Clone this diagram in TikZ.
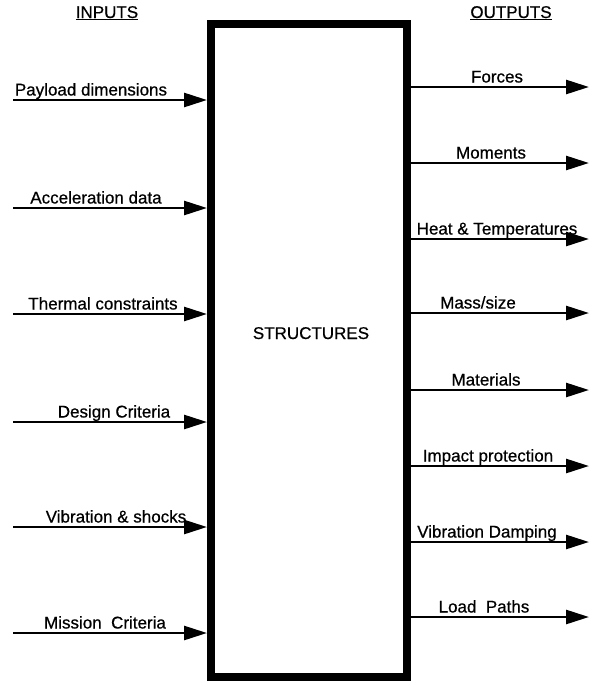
\documentclass[tikz,border=0pt]{standalone}
\usepackage{fontspec}
\setmainfont{Liberation Sans}[FakeBold=0.6]
\usetikzlibrary{arrows.meta}
\begin{document}
\begin{tikzpicture}[x=1pt,y=-1pt,
  lbl/.style={font=\fontsize{17}{19}\selectfont, inner sep=0pt, anchor=base},
  head/.style={font=\fontsize{17}{19}\selectfont, inner sep=0pt, anchor=base},
  flow/.style={line width=2.6pt, -{Triangle[length=23pt,width=14pt]}},
  mainbox/.style={draw, line width=8pt, minimum width=196pt, minimum height=653pt, inner sep=0pt}]
\useasboundingbox (0,0) rectangle (598,681);
\node[mainbox] (struct) at (309,350.5) {};
\node[lbl] (stxt) at (311,339) {STRUCTURES};
\node[head] (hin) at (107,18) {\underline{INPUTS}};
\node[head] (hout) at (511,18) {\underline{OUTPUTS}};
% inputs
\foreach \i/\y/\cx/\t in {1/100/91/{Payload dimensions},
  2/208/96/{Acceleration data},
  3/314/103/{Thermal constraints},
  4/422/114/{Design Criteria},
  5/527/116/{Vibration \& shocks},
  6/633/105/{Mission\ \ Criteria}}{
  \coordinate (in\i) at (13,\y);
  \draw[flow] (in\i) -- (in\i -| struct.west);
  \node[lbl] (inl\i) at (\cx,\y-4.5) {\t};
}
% outputs
\foreach \i/\y/\cx/\t in {1/87/497/{Forces},
  2/163/491/{Moments},
  3/239/497/{Heat \& Temperatures},
  4/313/478/{Mass/size},
  5/390/486/{Materials},
  6/466/488/{Impact protection},
  7/542/487/{Vibration Damping},
  8/617/484/{Load\ \ Paths}}{
  \coordinate (out\i) at (589,\y);
  \draw[flow] (out\i -| struct.east) -- (out\i);
  \node[lbl] (outl\i) at (\cx,\y-4.5) {\t};
}
\end{tikzpicture}
\end{document}
